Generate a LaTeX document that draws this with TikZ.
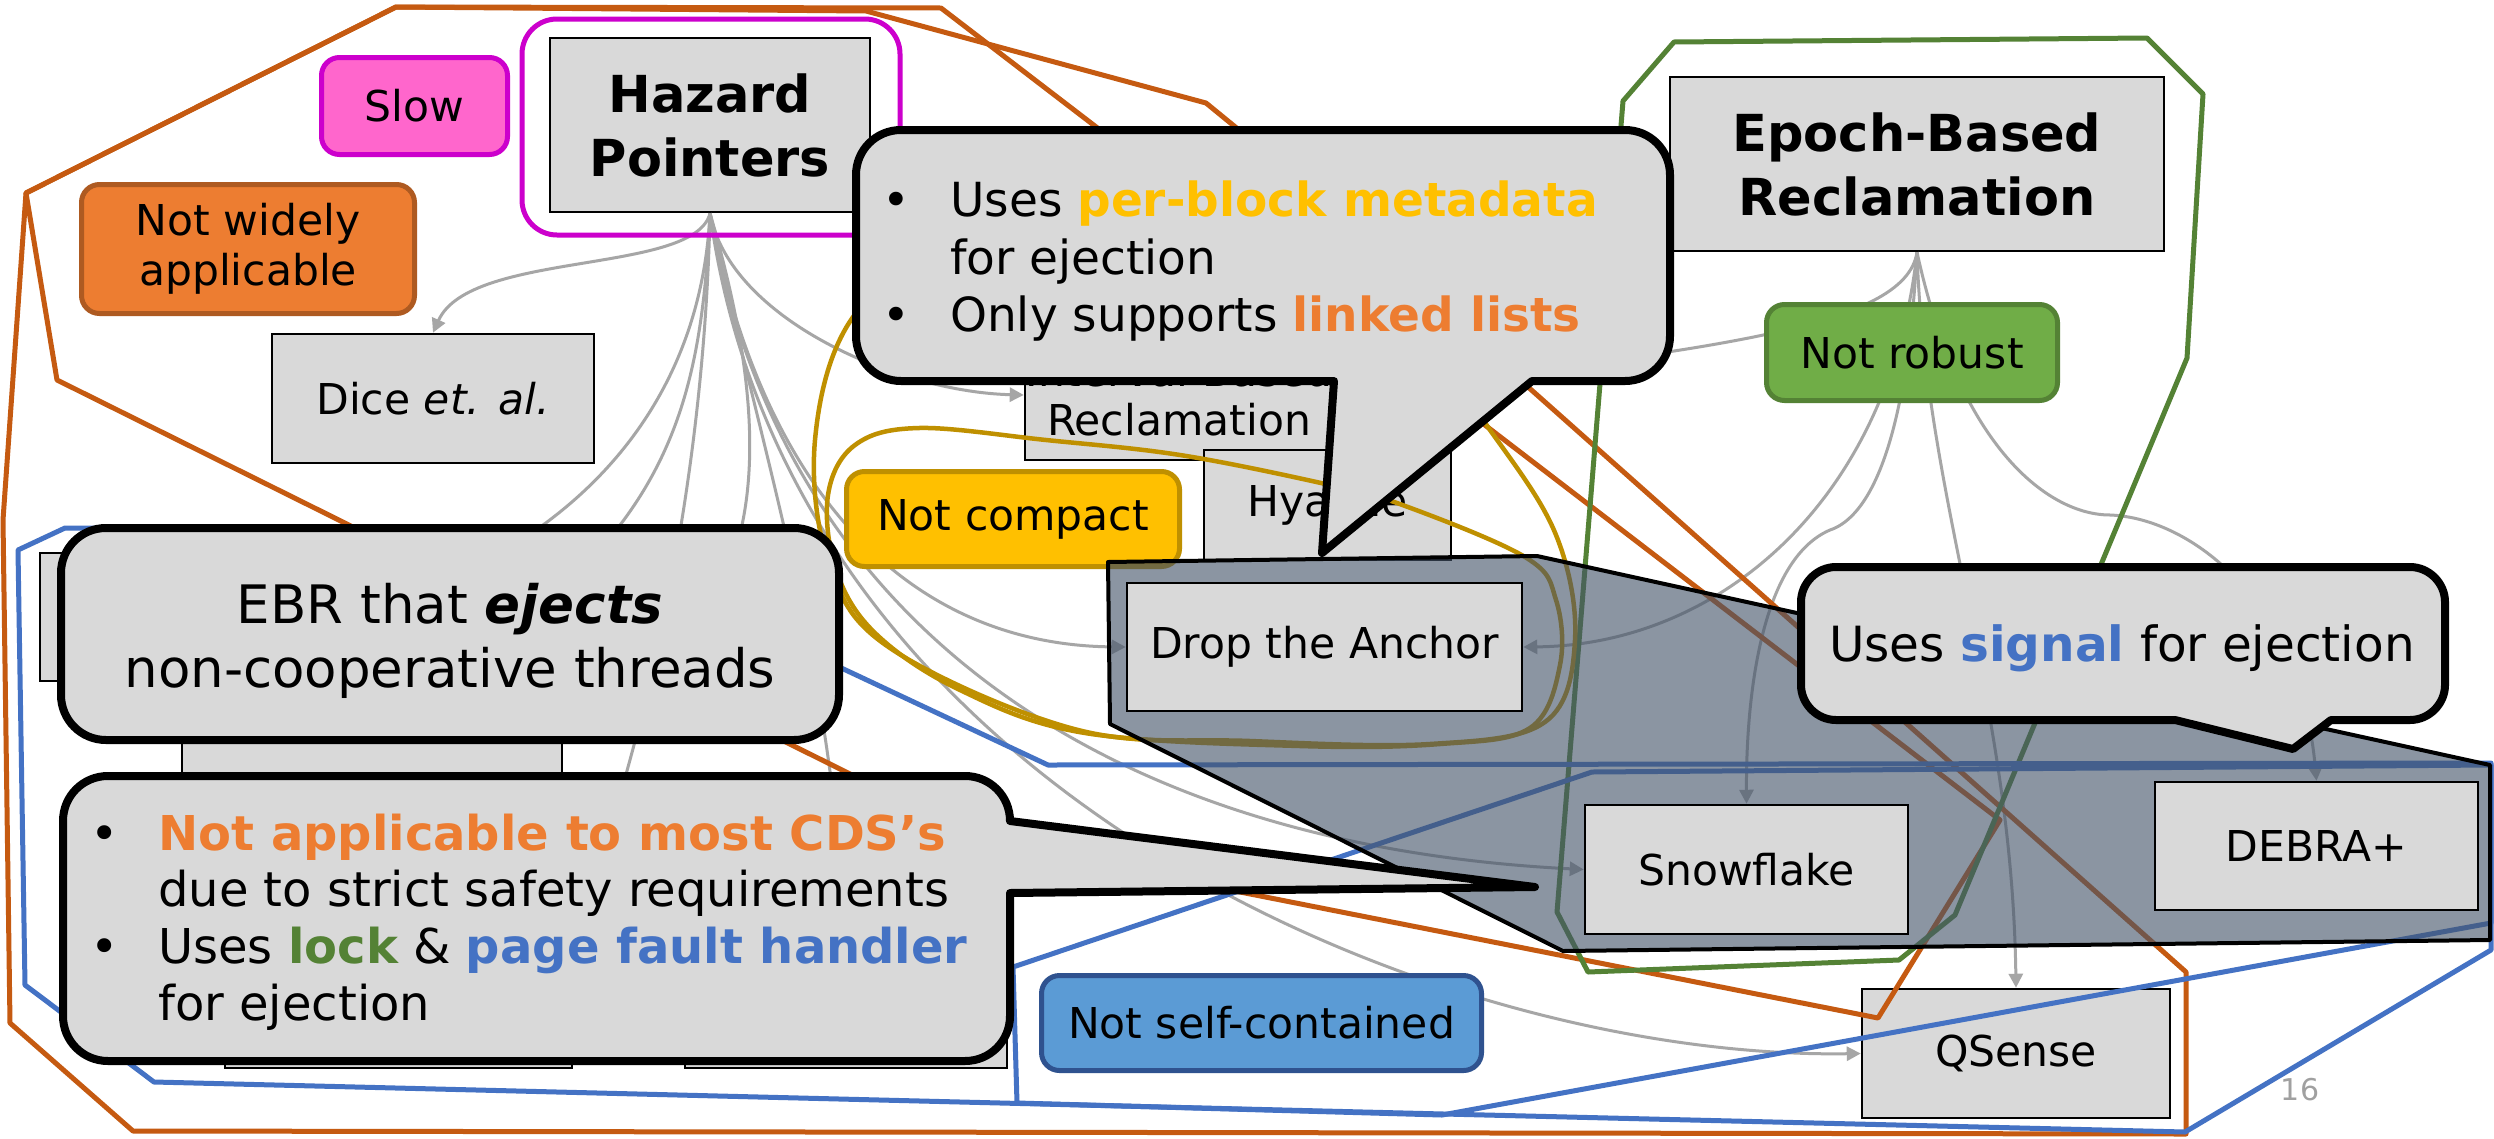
\documentclass[tikz,border=0pt]{standalone}
\usepackage{fontspec}
\setmainfont{DejaVu Sans}
\usetikzlibrary{arrows.meta}
\definecolor{boxgray}{HTML}{D9D9D9}
\definecolor{arrowgray}{HTML}{A6A6A6}
\definecolor{orgline}{HTML}{C55A11}
\definecolor{grnline}{HTML}{548235}
\definecolor{bluline}{HTML}{4472C4}
\definecolor{goldline}{HTML}{BF9000}
\definecolor{magline}{HTML}{CC00CC}
\definecolor{pinkfill}{HTML}{FF66CC}
\definecolor{orgfill}{HTML}{ED7D31}
\definecolor{orgdraw}{HTML}{AE5A21}
\definecolor{grnfill}{HTML}{70AD47}
\definecolor{yelfill}{HTML}{FFC000}
\definecolor{yeldraw}{HTML}{BF9000}
\definecolor{blufill}{HTML}{5B9BD5}
\definecolor{bludraw}{HTML}{2F528F}
\definecolor{slate}{HTML}{44546A}
\definecolor{txtorange}{HTML}{ED7D31}
\definecolor{txtgold}{HTML}{FFC000}
\definecolor{txtgreen}{HTML}{548235}
\definecolor{txtblue}{HTML}{4472C4}
\definecolor{pagegray}{HTML}{A0A0A0}
\newcommand\myfs[2]{\fontsize{#1}{#2}\selectfont}
\pgfdeclarelayer{bglayer}
\pgfdeclarelayer{linelayer}
\pgfdeclarelayer{taglayer}
\pgfdeclarelayer{grplayer}
\pgfdeclarelayer{shadelayer}
\pgfdeclarelayer{toplayer}
\pgfsetlayers{bglayer,linelayer,taglayer,grplayer,shadelayer,main,toplayer}

\begin{document}
\begin{tikzpicture}[x=1pt,y=-1pt,
  box/.style={draw=black, line width=2.5pt, fill=boxgray, inner sep=0pt, align=center, font=\myfs{42.5}{49}},
  titlebox/.style={box, font=\bfseries\myfs{51}{64}},
  tag/.style={line width=5pt, rounded corners=18pt, inner sep=0pt, align=center, font=\myfs{42.5}{50}},
  conn/.style={draw=arrowgray, line width=3pt, -{Triangle[length=14pt,width=14pt]}},
  link/.style={draw=arrowgray, line width=3pt},
  grp/.style={line width=5pt, line join=round},
  callout/.style={draw=black, line width=8pt, fill=boxgray, line join=round},
  cone/.style={inner sep=0pt, font=\myfs{47}{57}},
  cfour/.style={inner sep=0pt, font=\myfs{48.5}{57}},
  ctwo/.style={inner sep=0pt, font=\myfs{53}{64}},
  cthree/.style={inner sep=0pt, font=\myfs{48}{57}},
]
\useasboundingbox (0,0) rectangle (2494,1138);

% boxes that sit above the shaded region
\node[box, minimum width=395pt, minimum height=128pt] (dta) at (1324.5,647) {Drop the Anchor};
\node[box, minimum width=323pt, minimum height=129pt] (snow) at (1746.5,869.5) {Snowflake};
\node[box, minimum width=323pt, minimum height=128pt] (debra) at (2316.5,846) {DEBRA+};

\begin{pgfonlayer}{bglayer}
\fill[white] (0,0) rectangle (2494,1138);
\node[titlebox, minimum width=320pt, minimum height=174pt] (hp) at (710,125) {Hazard\\Pointers};
\node[box, minimum width=322pt, minimum height=129pt] (dice) at (433,398.5) {Dice \textit{et. al.}};
\node[box, minimum width=308pt, minimum height=130pt] (ibr) at (1179,395) {Interval-Based\\Reclamation};
\node[box, minimum width=247pt, minimum height=110pt] (hy) at (1327.5,505) {Hyaline};
\node[titlebox, minimum width=494pt, minimum height=174pt] (ebr) at (1917,164) {Epoch-Based\\Reclamation};
\node[box, minimum width=308pt, minimum height=129pt] (qs) at (2016,1053.5) {QSense};
\node[box, minimum width=300pt, minimum height=128pt] (hidA) at (190,617) {};
\node[box, minimum width=380pt, minimum height=140pt] (hidB) at (372,790) {};
\node[box, minimum width=347pt, minimum height=128pt] (hidC) at (398.5,1004) {};
\node[box, minimum width=322pt, minimum height=128pt] (hidD) at (846,1004) {};
\end{pgfonlayer}

\begin{pgfonlayer}{linelayer}
\draw[conn] (hp.south) .. controls (695,275) and (470,250) .. (dice.north);
\draw[conn] (hp.south) .. controls (730,320) and (900,392) .. (ibr.west);
\draw[link] (hp.south) .. controls (700,430) and (660,560) .. (hidB.north);
\draw[link] (hp.south) .. controls (705,450) and (660,700) .. (hidC.north east);
\draw[link] (hp.south) .. controls (770,420) and (790,640) .. (hidB.north east);
\draw[link] (hp.south) .. controls (760,450) and (830,650) .. (hidD.north);
\draw[link] (hp.south) .. controls (700,420) and (560,560) .. (hidA.east);
\draw[conn] (hp.south) .. controls (760,480) and (900,645) .. (dta.west);
\draw[conn] (hp.south) .. controls (780,620) and (1100,845) .. (snow.west);
\draw[conn] (hp.south) .. controls (790,800) and (1450,1060) .. (qs.west);
\draw[conn] (ebr.south) .. controls (1905,330) and (1700,350) .. (ibr.east);
\draw[conn] (ebr.south) .. controls (1890,500) and (1720,645) .. (dta.east);
\draw[conn] (ebr.south) .. controls (1905,470) and (1860,520) .. (1830,530) .. controls (1760,560) and (1746,700) .. (snow.north);
\draw[conn] (ebr.south) .. controls (1925,500) and (2012,700) .. (qs.north);
\draw[conn] (ebr.south) .. controls (1960,450) and (2050,515) .. (2110,515) .. controls (2190,518) and (2300,600) .. (debra.north);
\end{pgfonlayer}

\begin{pgfonlayer}{taglayer}
\node[tag, draw=magline, fill=pinkfill, minimum width=186pt, minimum height=97pt] (slow) at (414.5,106) {Slow};
\node[tag, draw=orgdraw, fill=orgfill, minimum width=333pt, minimum height=129pt] (nwa) at (248,249) {Not widely\\applicable};
\node[tag, draw=grnline, fill=grnfill, minimum width=291pt, minimum height=96pt] (nr) at (1912,352.5) {Not robust};
\node[tag, draw=yeldraw, fill=yelfill, minimum width=333pt, minimum height=95pt] (nc) at (1013,519) {Not compact};
\node[tag, draw=bludraw, fill=blufill, minimum width=440pt, minimum height=95pt] (nsc) at (1261.5,1023) {Not self-contained};
\end{pgfonlayer}

\begin{pgfonlayer}{grplayer}
\node[draw=magline, line width=5pt, rounded corners=35pt, minimum width=378pt, minimum height=216pt, inner sep=0pt] (hpframe) at (711,127) {};
\draw[grp, draw=orgline] (396,7) -- (941,8) -- (2000,820) -- (1878,1018) -- (987,842) -- (57,380) -- (26,193) -- cycle;
\draw[grp, draw=orgline] (26,193) -- (396,7) -- (866,11) -- (1206,103) -- (1239,130) -- (2186,972) -- (2186,1134) -- (133,1131) -- (10,1023) -- (3,520) -- cycle;
\draw[grp, draw=grnline] (1674,42) -- (2147,38) -- (2203,94) -- (2187,358) -- (1955,915) -- (1899,960) -- (1588,972) -- (1557,912) -- (1623,101) -- cycle;
\draw[grp, draw=bluline] (65,528) -- (18,550) -- (25,985) -- (154,1082) -- (1444,1114) -- (2185,1132) -- (2491,950) -- (2491,763) -- (1048,765) -- (543,528) -- cycle;
\draw[grp, draw=bluline] (1013,967) -- (1592,772) -- (2491,765) -- (2491,923) -- (1442,1115) -- (1017,1103) -- cycle;
\draw[grp, draw=goldline, line width=4.5pt] plot[smooth cycle, tension=0.6] coordinates {(1150,215) (1400,315) (1490,430) (1556,535) (1575,640) (1545,722) (1430,744) (1250,741) (1078,730) (893,650) (830,567) (815,440) (853,317) (960,235)};
\draw[grp, draw=goldline, line width=4.5pt] plot[smooth cycle, tension=0.6] coordinates {(1525,557) (1397,503) (1321,483) (1180,455) (1046,440) (919,428) (855,445) (828,495) (836,570) (875,633) (960,690) (1085,733) (1300,746) (1440,744) (1530,728) (1560,665) (1556,600)};
\end{pgfonlayer}

\begin{pgfonlayer}{shadelayer}
\draw[fill=slate, fill opacity=0.62, draw=black, line width=4pt, line join=round] (1108,562) -- (1537,556) -- (2490,765) -- (2490,940) -- (1563,951) -- (1110,724) -- cycle;
\end{pgfonlayer}

\node[font=\myfs{30}{36}, text=pagegray, inner sep=0pt] (pgnum) at (2300,1090) {16};

\begin{pgfonlayer}{toplayer}
% callout 1
\draw[callout] (1322,553) -- (1334,381) -- (901,381) .. controls (876,381) and (856,361) .. (856,336) -- (856,175) .. controls (856,150) and (876,130) .. (901,130) -- (1625,130) .. controls (1650,130) and (1670,150) .. (1670,175) -- (1670,336) .. controls (1670,361) and (1650,381) .. (1625,381) -- (1532,381) -- cycle;
\node[cone, anchor=base] (c1b1) at (896,216) {•};
\node[cone, anchor=base west] (c1l1) at (950,216) {Uses \textbf{\color{txtgold}per-block metadata}};
\node[cone, anchor=base west] (c1l2) at (950,274) {for ejection};
\node[cone, anchor=base] (c1b2) at (896,331) {•};
\node[cone, anchor=base west] (c1l3) at (950,331) {Only supports \textbf{\color{txtorange}linked lists}};
% callout 2
\node[draw=black, line width=8pt, fill=boxgray, rounded corners=45pt, minimum width=778pt, minimum height=212pt, inner sep=0pt] (c2) at (450,634) {};
\node[ctwo, anchor=base] (c2l1) at (450,623) {EBR that \textbf{\textit{ejects}}};
\node[ctwo, anchor=base] (c2l2) at (450,687) {non-cooperative threads};
% callout 3
\draw[callout] (1535,887) -- (1010,893) -- (1010,1016) .. controls (1010,1041) and (990,1061) .. (965,1061) -- (108,1061) .. controls (83,1061) and (63,1041) .. (63,1016) -- (63,821) .. controls (63,796) and (83,776) .. (108,776) -- (965,776) .. controls (990,776) and (1010,796) .. (1010,821) -- cycle;
\node[cthree, anchor=base] (c3b1) at (105,850) {•};
\node[cthree, anchor=base west] (c3l1) at (158,850) {\textbf{\color{txtorange}Not applicable to most CDS’s}};
\node[cthree, anchor=base west] (c3l2) at (158,906) {due to strict safety requirements};
\node[cthree, anchor=base] (c3b2) at (105,963) {•};
\node[cthree, anchor=base west] (c3l3) at (158,963) {Uses \textbf{\color{txtgreen}lock} \& \textbf{\color{txtblue}page fault handler}};
\node[cthree, anchor=base west] (c3l4) at (158,1020) {for ejection};
% callout 4
\draw[callout] (2293,749) -- (2331,720) -- (2410,720) .. controls (2429,720) and (2445,704) .. (2445,685) -- (2445,602) .. controls (2445,583) and (2429,567) .. (2410,567) -- (1836,567) .. controls (1817,567) and (1801,583) .. (1801,602) -- (1801,685) .. controls (1801,704) and (1817,720) .. (1836,720) -- (2175,720) -- cycle;
\node[cfour, anchor=base] (c4l1) at (2122,661) {Uses \textbf{\color{txtblue}signal} for ejection};
\end{pgfonlayer}
\end{tikzpicture}
\end{document}
